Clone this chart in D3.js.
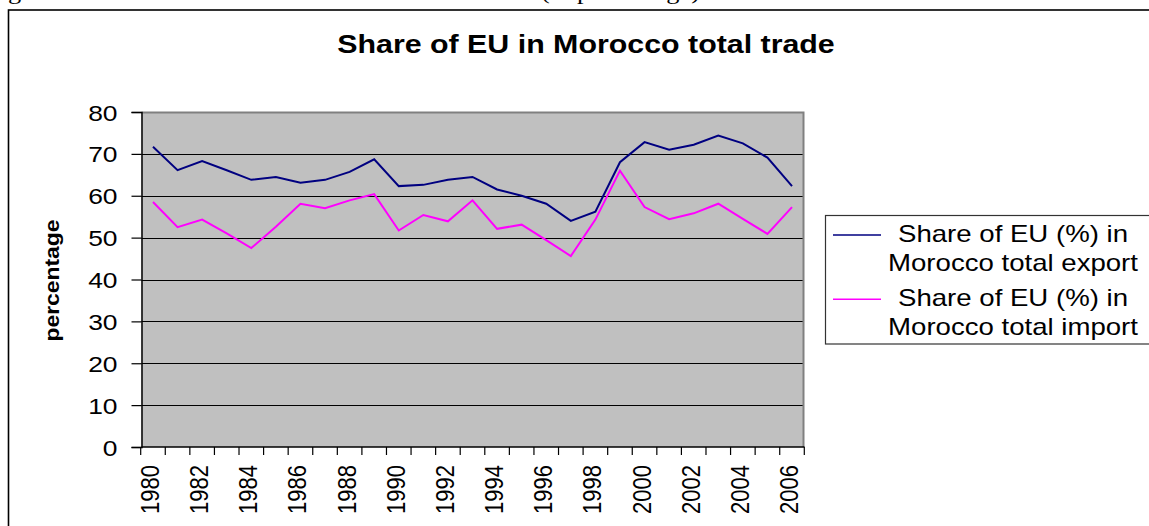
<!DOCTYPE html>
<html>
<head>
<meta charset="utf-8">
<script src="https://cdn.jsdelivr.net/npm/d3@7"></script>
<style>
  html, body { margin: 0; padding: 0; background: #fff; overflow: hidden; }
  svg { display: block; font-family: "Liberation Sans", Arial, sans-serif; }
</style>
</head>
<body>
<svg id="chart" width="1149" height="526"></svg>
<script>
// --- data ---
const years = [1980, 1981, 1982, 1983, 1984, 1985, 1986, 1987, 1988, 1989,
  1990, 1991, 1992, 1993, 1994, 1995, 1996, 1997, 1998, 1999,
  2000, 2001, 2002, 2003, 2004, 2005, 2006];
const exportShare = [71.7, 66.1, 68.3, 66.1, 63.8, 64.5, 63.1, 63.8, 65.7, 68.7,
  62.3, 62.6, 63.8, 64.5, 61.5, 60.0, 58.1, 54.0, 56.2, 68.0,
  72.8, 71.0, 72.2, 74.4, 72.5, 69.1, 62.3];
const importShare = [58.5, 52.5, 54.3, 51.0, 47.5, 52.6, 58.1, 57.0, 58.9, 60.4,
  51.7, 55.4, 53.9, 58.9, 52.1, 53.1, 49.4, 45.6, 54.3, 66.0,
  57.3, 54.4, 55.8, 58.1, 54.5, 50.9, 57.3];
const yTicks = [0, 10, 20, 30, 40, 50, 60, 70, 80];
const xLabels = [1980, 1982, 1984, 1986, 1988, 1990, 1992, 1994, 1996, 1998,
  2000, 2002, 2004, 2006];
const seriesNames = [
  ['Share of EU (%) in', 'Morocco total export'],
  ['Share of EU (%) in', 'Morocco total import']
];
const seriesColors = ['#000080', '#ff00ff'];

// the original picture is stretched sideways, so text gets the same stretch
const SX = 1.2;

const svg = d3.select('#chart');

// caption line of the page above: only its descenders reach into the picture
svg.append('text')
  .attr('transform', `translate(-14,-1) scale(${SX},1)`)
  .attr('font-family', '"Liberation Serif", "Times New Roman", serif')
  .attr('font-size', 22)
  .text('Figure');
svg.append('text')
  .attr('transform', `translate(541,-1) scale(${SX},1)`)
  .attr('font-family', '"Liberation Serif", "Times New Roman", serif')
  .attr('font-size', 22)
  .text('(in percentage)');

// outer chart frame (right and bottom edges fall outside the picture)
svg.append('rect')
  .attr('x', 8.5).attr('y', 10)
  .attr('width', 1160).attr('height', 540)
  .attr('fill', '#fff')
  .attr('stroke', '#000')
  .attr('stroke-width', 1.6);

// --- scales ---
const plot = { left: 141.5, right: 803.5, top: 112, bottom: 447 };

const x = d3.scaleBand()
  .domain(years)
  .range([plot.left - 0.8, plot.right + 0.8])
  .padding(0);

const y = d3.scaleLinear()
  .domain([0, 80])
  .range([plot.bottom, plot.top]);

const cx = d => x(d) + x.bandwidth() / 2;

// plot area
svg.append('rect')
  .attr('x', plot.left).attr('y', plot.top)
  .attr('width', plot.right - plot.left)
  .attr('height', plot.bottom - plot.top)
  .attr('fill', '#c0c0c0');

// gridlines
svg.append('g')
  .selectAll('line')
  .data(yTicks.filter(v => v > 0 && v < 80))
  .join('line')
  .attr('x1', plot.left).attr('x2', plot.right)
  .attr('y1', d => Math.round(y(d)) + 0.5).attr('y2', d => Math.round(y(d)) + 0.5)
  .attr('stroke', '#000')
  .attr('stroke-width', 1);

// plot border top + right (gray)
svg.append('path')
  .attr('d', `M${plot.left},${plot.top + 0.5} H${plot.right} V${plot.bottom}`)
  .attr('fill', 'none')
  .attr('stroke', '#808080')
  .attr('stroke-width', 2);

// y axis
const yAxis = d3.axisLeft(y)
  .tickValues(yTicks)
  .tickSize(10)
  .tickPadding(14)
  .tickFormat(d3.format('d'));

const gy = svg.append('g')
  .attr('transform', `translate(${plot.left},0)`)
  .call(yAxis);
gy.select('.domain').attr('stroke', '#000').attr('stroke-width', 1.5);
gy.selectAll('.tick line').attr('stroke', '#000').attr('stroke-width', 1.2);
gy.selectAll('.tick text')
  .attr('font-size', 22)
  .attr('font-family', '"Liberation Sans", Arial, sans-serif')
  .attr('fill', '#000')
  .attr('x', null).attr('dy', null)
  .attr('text-anchor', 'end')
  .attr('transform', `translate(-24,8) scale(${SX},1)`);

// x axis: ticks on category boundaries, labels every other year
const bounds = years.map(d => x(d)).concat([x(years[years.length - 1]) + x.bandwidth()]);
const gx = svg.append('g');
gx.append('line')
  .attr('x1', plot.left).attr('x2', plot.right + 1)
  .attr('y1', plot.bottom).attr('y2', plot.bottom)
  .attr('stroke', '#000').attr('stroke-width', 1.5);
gx.selectAll('line.tick')
  .data(bounds)
  .join('line')
  .attr('class', 'tick')
  .attr('x1', d => d).attr('x2', d => d)
  .attr('y1', plot.bottom).attr('y2', plot.bottom + 8)
  .attr('stroke', '#000').attr('stroke-width', 1.2);
gx.selectAll('text')
  .data(xLabels)
  .join('text')
  .attr('font-size', 22)
  .attr('text-anchor', 'end')
  .attr('dy', '0.36em')
  .attr('transform', d => `translate(${cx(d) - 3.5},465) scale(${SX},1) rotate(-90)`)
  .text(d => d);

// y axis title
svg.append('text')
  .attr('transform', `translate(59,${(plot.top + plot.bottom) / 2 + 1}) rotate(-90)`)
  .attr('text-anchor', 'middle')
  .attr('font-size', 20)
  .attr('font-weight', 'bold')
  .attr('textLength', 122)
  .attr('lengthAdjust', 'spacingAndGlyphs')
  .text('percentage');

// chart title
svg.append('text')
  .attr('transform', `translate(586,52.5) scale(${SX},1)`)
  .attr('text-anchor', 'middle')
  .attr('font-size', 25.3)
  .attr('font-weight', 'bold')
  .text('Share of EU in Morocco total trade');

// series lines
const line = d3.line()
  .x((d, i) => cx(years[i]))
  .y(d => y(d));

[exportShare, importShare].forEach((vals, k) => {
  svg.append('path')
    .datum(vals)
    .attr('d', line)
    .attr('fill', 'none')
    .attr('stroke', seriesColors[k])
    .attr('stroke-width', 2)
    .attr('stroke-linejoin', 'miter');
});

// legend
const legend = svg.append('g');
legend.append('rect')
  .attr('x', 825.5).attr('y', 215.5)
  .attr('width', 340).attr('height', 128.5)
  .attr('fill', '#fff')
  .attr('stroke', '#333')
  .attr('stroke-width', 1.2);

const legendRows = [
  { lineY: 235, base: [241.7, 270.7] },
  { lineY: 299.3, base: [306, 335] }
];
legendRows.forEach((row, k) => {
  legend.append('line')
    .attr('x1', 833).attr('x2', 881)
    .attr('y1', row.lineY).attr('y2', row.lineY)
    .attr('stroke', seriesColors[k])
    .attr('stroke-width', 1.5);
  seriesNames[k].forEach((txt, j) => {
    legend.append('text')
      .attr('transform', `translate(1013,${row.base[j]}) scale(${SX},1)`)
      .attr('text-anchor', 'middle')
      .attr('font-size', 23)
      .text(txt);
  });
});
</script>
</body>
</html>
